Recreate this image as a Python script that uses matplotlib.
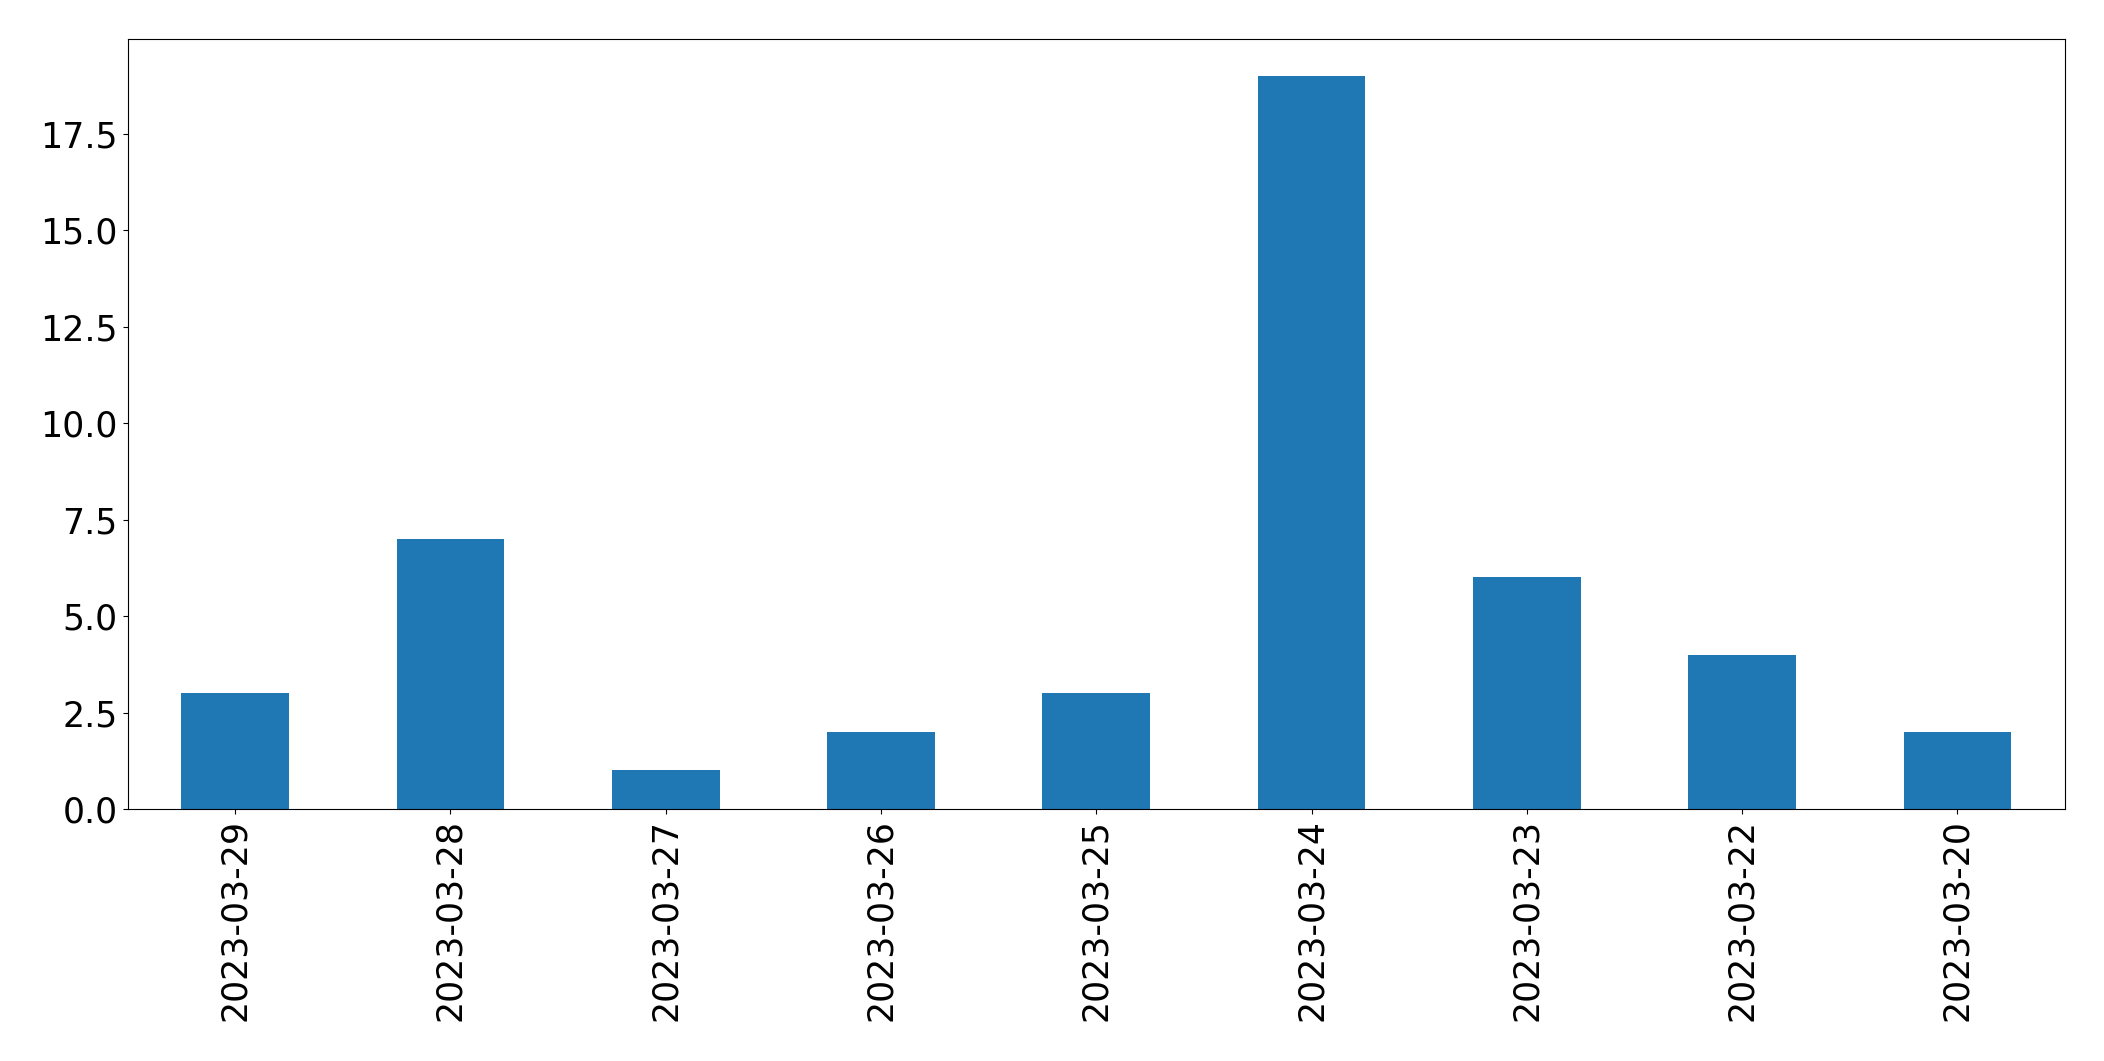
import pandas as pd
import matplotlib
matplotlib.use("Agg")
import matplotlib.pyplot as plt

dates = ["2023-03-29", "2023-03-28", "2023-03-27", "2023-03-26", "2023-03-25",
         "2023-03-24", "2023-03-23", "2023-03-22", "2023-03-20"]
counts = [3, 7, 1, 2, 3, 19, 6, 4, 2]

s = pd.Series(counts, index=dates)

fig, ax = plt.subplots(figsize=(21.04, 10.61), dpi=100)
s.plot(kind="bar", ax=ax, fontsize=25, color="#1f77b4")
fig.subplots_adjust(left=127.5 / 2104, right=2065 / 2104, top=1 - 39 / 1061, bottom=1 - 809 / 1061)

fig.savefig("out.png", dpi=100)
plt.close(fig)
